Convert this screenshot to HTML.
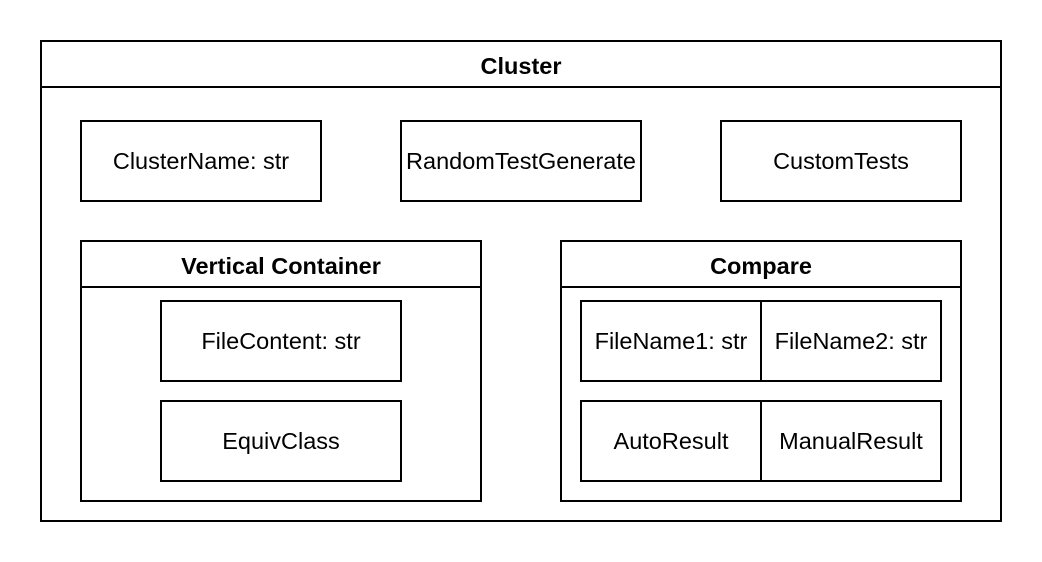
<!DOCTYPE html>
<html><head><style>
html,body{margin:0;padding:0;background:#fff;}
svg{display:block;}
text{font-family:"Liberation Sans",Arial,sans-serif;font-size:23.5px;fill:#000;}
.b{font-weight:bold;}
</style></head><body>
<svg width="1042" height="562" viewBox="0 0 1042 562" xmlns="http://www.w3.org/2000/svg">
<g fill="none" stroke="#000" stroke-width="2">
<rect x="41" y="41" width="960" height="480"/>
<line x1="41" y1="87" x2="1001" y2="87"/>
<rect x="81" y="121" width="240" height="80"/>
<rect x="401" y="121" width="240" height="80"/>
<rect x="721" y="121" width="240" height="80"/>
<rect x="81" y="241" width="400" height="260"/>
<line x1="81" y1="287" x2="481" y2="287"/>
<rect x="161" y="301" width="240" height="80"/>
<rect x="161" y="401" width="240" height="80"/>
<rect x="561" y="241" width="400" height="260"/>
<line x1="561" y1="287" x2="961" y2="287"/>
<rect x="581" y="301" width="180" height="80"/>
<rect x="761" y="301" width="180" height="80"/>
<rect x="581" y="401" width="180" height="80"/>
<rect x="761" y="401" width="180" height="80"/>
</g>
<g text-anchor="middle" dominant-baseline="central">
<text class="b" x="521" y="66">Cluster</text>
<text x="201" y="161">ClusterName: str</text>
<text x="521" y="161">RandomTestGenerate</text>
<text x="841" y="161">CustomTests</text>
<text class="b" x="281" y="266">Vertical Container</text>
<text x="281" y="341">FileContent: str</text>
<text x="281" y="441">EquivClass</text>
<text class="b" x="761" y="266">Compare</text>
<text x="671" y="341">FileName1: str</text>
<text x="851" y="341">FileName2: str</text>
<text x="671" y="441">AutoResult</text>
<text x="851" y="441">ManualResult</text>
</g>
</svg>
</body></html>
